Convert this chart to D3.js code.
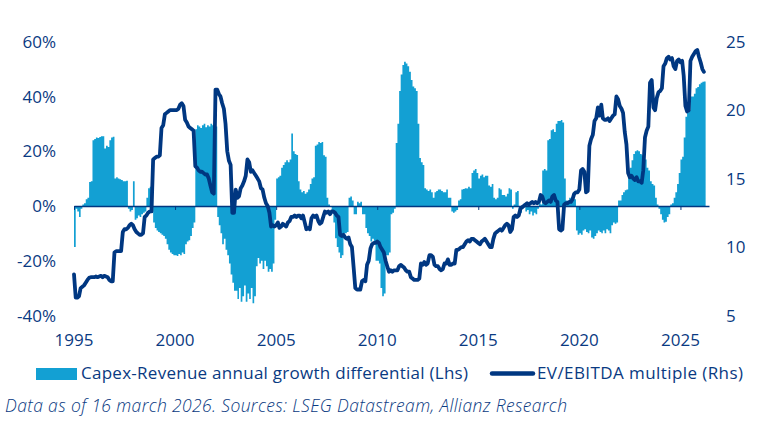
<!DOCTYPE html>
<html>
<head>
<meta charset="UTF-8">
<title>Capex-Revenue growth differential vs EV/EBITDA</title>
<script src="https://cdn.jsdelivr.net/npm/d3@7"></script>
<style>
  body { margin: 0; background: #fff; }
  text { font-family: "Open Sans", sans-serif; fill: #0a3a82; }
</style>
</head>
<body>
<script>
// monthly values, starting January 1995
const startYear = 1995;

// Capex-Revenue annual growth differential, % (left axis)
const capexDiff = [
  -15, -1, -2, -4, -1, 0.5, 1, 2.5, 3, 8.8, 9, 24,            // 1995
  24.5, 25, 24.8, 25.2, 25.5, 25.5, 21, 22, 21.5, 24, 25, 25.3, // 1996
  10, 10.5, 10, 9.8, 9.5, 9, 9, 9.2, -1, -2, -1.5, 9,           // 1997
  -5, -4.5, -3.5, -4, -3, -2.5, -2, 3, 6.5, 7, 7.5, -6,         // 1998
  -8, -9, -9.5, -10, -10.5, -11, -12, -14, -16, -17, -17.5, -18, // 1999
  -18, -18.3, -17.5, -18, -17, -17.5, -14, -13, -12.5, -11, -8, -6, // 2000
  28, 29.5, 29, 28.5, 29.5, 30, 28.8, 29.5, 29, 30, 29.5, 30.5, // 2001
  29, -4, -7, -10, -14, -12, -16, -18, -21, -25, -28, -31,      // 2002
  -31, -34, -30, -35, -33, -29, -35, -32, -34, -30, -35.5, -33, // 2003
  -22, -19, -21, -20, -23, -20, -22, -24, -23, -24, -21, -5,    // 2004
  10, 10.5, 11, 14, 15, 16, 16.7, 16, 17, 26.5, 20, 19,         // 2005
  18.6, 9, 6, 5, 5.5, 4.5, 5, 6, 8, 10, 10.5, 22,               // 2006
  22.5, 23.4, 23, 23.4, 18.5, 18, 3, 0.5, 0, -2, -6, -11.8,     // 2007
  -15, -17, -19, -18, -10, -10, -9.5, 3, 3.5, 2, -3, -3,        // 2008
  1.5, 1, 1.5, -3, -3, -8, -10, -11, -13, -12, -14, -20,        // 2009
  -20, -21, -30, -33, -32, -18, -18, -17, -3, -2.5, -1, 23,     // 2010
  30, 42, 48, 51.5, 52.7, 52, 51, 49, 46, 43.6, 43, 42,         // 2011
  30, 17.5, 16, 15, 6.5, 6, 5.5, 6, 5, 3, 5, 5.5,               // 2012
  6, 6, 5.5, 5, 5, 6, 3, 3, -2, -2.5, -2, -1.5,                 // 2013
  2, 2.5, 6, 6.2, 6.5, 6.4, 7, 6.5, 12, 13, 13.5, 12,           // 2014
  10, 11, 11.5, 10.5, 11, 11, 7.5, 7, 8, 3, 2.5, 3,             // 2015
  6.5, 6, 4, 4, 3.5, 4.5, 6.5, 6, -1, 0.5, 5, 5.5,              // 2016
  -3, -2.5, -1, 1, -2, -1.5, -3, -2, -3.5, -2.5, -3, -1,        // 2017
  1, 0.5, 13, 13.5, 13, 24, 24.5, 27.7, 28, 27, 30, 31,         // 2018
  31, 31.4, 30.5, 10, 2, 1, 3, 2, 3.5, 2.5, -9, -10.5,          // 2019
  -10, -10.5, -9, -8.5, -9.5, -10, -9, -11.5, -12, -11, -10, -9, // 2020
  -9.5, -10, -9, -10, -8.5, -9, -10, -7, -6, -6.5, -6, 2,       // 2021
  2, 4, 5, 5.7, 6, 12, 14, 16.7, 19, 20, 20.4, 20,              // 2022
  19, 18.5, 18, 17, 14, 13, 9, 8, 7.5, 3, 0.5, -1,              // 2023
  -3, -5, -6, -5.8, -4, -3, 0.5, 1, 3, 5, 8, 12,                // 2024
  17, 18, 25, 32.6, 34, 35, 40, 40, 41, 43, 43.5, 44.5,         // 2025
  45, 45.4, 45.5                                                // 2026
];

// EV/EBITDA multiple (right axis)
const evEbitda = [
  8.0, 6.3, 6.3, 6.4, 7.0, 7.1, 7.2, 7.4, 7.6, 7.75, 7.8, 7.8,           // 1995
  7.8, 7.85, 7.8, 7.85, 7.9, 7.8, 7.9, 7.85, 7.8, 7.6, 7.5, 7.5,         // 1996
  9.6, 9.7, 9.7, 9.7, 9.7, 11.1, 11.3, 11.3, 11.4, 11.6, 11.7, 11.6,     // 1997
  11.3, 11.1, 11.0, 10.9, 10.9, 11.0, 12.2, 12.3, 12.5, 12.6, 12.6, 16.4, // 1998
  16.5, 16.6, 16.6, 16.7, 18.7, 18.9, 19.7, 19.8, 19.9, 20.0, 20.0, 20.0, // 1999
  20.0, 20.0, 20.1, 20.4, 20.5, 20.3, 19.3, 19.1, 18.8, 18.7, 18.6, 18.5, // 2000
  15.9, 15.8, 15.6, 15.5, 15.5, 15.4, 15.3, 15.3, 15.0, 14.5, 14.0, 13.9, // 2001
  21.5, 21.5, 21.2, 21.0, 20.5, 20.1, 19.0, 17.0, 16.3, 16.0, 12.5, 12.5, // 2002
  14.2, 13.6, 13.7, 14.3, 14.5, 14.8, 15.2, 16.4, 16.2, 15.5, 15.6, 15.4, // 2003
  15.2, 15.0, 14.8, 14.3, 14.2, 13.6, 13.2, 13.0, 12.5, 11.5, 11.6, 11.5, // 2004
  11.6, 11.8, 11.4, 11.5, 11.7, 11.6, 11.5, 11.8, 11.9, 12.2, 12.2, 12.3, // 2005
  12.2, 12.3, 12.3, 12.1, 12.3, 11.8, 11.3, 11.4, 11.3, 12.1, 12.3, 12.2, // 2006
  12.3, 11.9, 11.7, 11.8, 12.2, 12.6, 12.5, 12.6, 12.4, 12.6, 12.6, 12.5, // 2007
  12.3, 12.2, 10.9, 10.8, 10.9, 10.7, 10.6, 10.7, 10.2, 10.0, 8.5, 7.0,   // 2008
  6.9, 6.9, 6.9, 7.5, 7.6, 7.5, 8.7, 9.0, 9.9, 10.2, 10.3, 10.3,          // 2009
  10.4, 10.3, 10.0, 9.8, 9.6, 9.0, 8.6, 8.2, 8.3, 8.2, 8.3, 8.3,          // 2010
  8.3, 8.6, 8.7, 8.6, 8.5, 8.3, 8.2, 8.2, 7.8, 7.7, 7.6, 7.6,             // 2011
  7.6, 7.7, 8.8, 8.7, 8.9, 8.7, 8.8, 9.4, 9.4, 9.3, 8.7, 8.6,             // 2012
  8.6, 8.4, 8.3, 8.4, 8.8, 8.8, 9.1, 8.7, 8.7, 8.8, 8.8, 9.8,             // 2013
  9.8, 9.9, 10.0, 10.0, 10.2, 10.4, 10.5, 10.4, 10.6, 10.6, 10.5, 10.4,   // 2014
  10.3, 10.2, 10.4, 10.5, 10.6, 10.4, 10.2, 10.0, 10.0, 10.6, 11.0, 11.1, // 2015
  11.2, 11.3, 11.2, 11.4, 11.6, 11.7, 11.6, 11.1, 11.3, 12.2, 12.3, 12.2, // 2016
  12.3, 12.8, 12.9, 13.0, 13.1, 13.2, 13.1, 13.2, 13.3, 13.2, 13.3, 13.2, // 2017
  13.3, 13.8, 13.7, 13.3, 13.2, 13.3, 13.4, 13.3, 13.7, 13.8, 13.4, 13.3, // 2018
  11.3, 11.2, 11.3, 13.1, 13.2, 13.2, 13.3, 13.3, 13.5, 13.9, 14.0, 14.0, // 2019
  14.2, 15.6, 15.7, 15.5, 14.0, 14.1, 17.4, 17.9, 18.2, 19.2, 19.4, 20.2, // 2020
  19.6, 20.4, 19.4, 19.3, 19.3, 19.4, 19.2, 19.4, 19.6, 19.7, 21.0, 20.8, // 2021
  20.3, 20.1, 19.8, 18.4, 17.5, 15.4, 15.1, 15.2, 15.0, 14.9, 15.1, 14.8, // 2022
  14.8, 14.7, 15.6, 18.0, 18.5, 18.8, 22.0, 22.2, 20.2, 20.0, 20.9, 21.3, // 2023
  21.4, 21.6, 23.2, 23.4, 23.8, 23.9, 23.7, 23.8, 23.2, 23.0, 23.6, 23.7, // 2024
  23.5, 23.6, 22.5, 20.3, 19.9, 20.0, 23.6, 23.9, 24.1, 24.3, 24.4, 23.9, // 2025
  23.5, 23.0, 22.8                                                        // 2026
];

const xTicks = [1995, 2000, 2005, 2010, 2015, 2020, 2025];
const leftTicks = [-40, -20, 0, 20, 40, 60];
const rightTicks = [5, 10, 15, 20, 25];

const barColor = '#13a0d3';
const lineColor = '#003781';

const width = 767;
const height = 422;

const month = i => new Date(Date.UTC(startYear, i, 1));
const yearDate = y => new Date(Date.UTC(y, 0, 1));

const x = d3.scaleUtc()
    .domain([yearDate(1995), new Date(Date.UTC(2026, 5, 1))])
    .range([74, 709]);
const yL = d3.scaleLinear().domain([-40, 60]).range([315.5, 41.7]);
const yR = d3.scaleLinear().domain([5, 25]).range([315.5, 41.7]);

const svg = d3.select('body')
    .append('svg')
    .attr('width', width)
    .attr('height', height);

// monthly columns, drawn as one stepped shape so neighbours do not leave gaps
const steps = capexDiff.map((v, i) => ({ t: month(i), v }));
steps.push({ t: month(capexDiff.length), v: capexDiff[capexDiff.length - 1] });
const area = d3.area()
    .curve(d3.curveStepAfter)
    .x(d => x(d.t))
    .y0(yL(0))
    .y1(d => yL(d.v));
svg.append('path')
    .datum(steps)
    .attr('fill', barColor)
    .attr('d', area);

// zero line with year ticks
const zeroAxis = svg.append('g')
    .attr('transform', `translate(0,${yL(0)})`)
    .call(d3.axisBottom(x)
        .tickValues(xTicks.map(yearDate))
        .tickSizeInner(4)
        .tickSizeOuter(0)
        .tickFormat(''));
zeroAxis.select('.domain').attr('stroke', lineColor).attr('stroke-width', 1.3);
zeroAxis.selectAll('.tick line').attr('stroke', lineColor).attr('stroke-width', 1);

// EV/EBITDA line
const line = d3.line()
    .x((d, i) => x(month(i)))
    .y(d => yR(d));
svg.append('path')
    .datum(evEbitda)
    .attr('fill', 'none')
    .attr('stroke', lineColor)
    .attr('stroke-width', 3.8)
    .attr('stroke-linejoin', 'round')
    .attr('stroke-linecap', 'round')
    .attr('d', line);

// axis labels
svg.append('g')
    .selectAll('text')
    .data(leftTicks)
    .join('text')
    .attr('x', 56)
    .attr('y', d => yL(d))
    .attr('dy', '0.36em')
    .attr('text-anchor', 'end')
    .attr('font-size', 17)
    .text(d => d + '%');

svg.append('g')
    .selectAll('text')
    .data(rightTicks)
    .join('text')
    .attr('x', 726)
    .attr('y', d => yR(d))
    .attr('dy', '0.36em')
    .attr('font-size', 17)
    .text(d => d);

svg.append('g')
    .selectAll('text')
    .data(xTicks)
    .join('text')
    .attr('x', d => x(yearDate(d)))
    .attr('y', 345.5)
    .attr('text-anchor', 'middle')
    .attr('font-size', 17)
    .text(d => d);

// legend
const legend = svg.append('g');
legend.append('rect')
    .attr('x', 36).attr('y', 368)
    .attr('width', 41).attr('height', 12)
    .attr('fill', barColor);
legend.append('text')
    .attr('x', 81).attr('y', 379)
    .attr('font-size', 17)
    .attr('textLength', 387)
    .attr('lengthAdjust', 'spacing')
    .text('Capex-Revenue annual growth differential (Lhs)');
legend.append('line')
    .attr('x1', 492).attr('x2', 533)
    .attr('y1', 373.5).attr('y2', 373.5)
    .attr('stroke', lineColor)
    .attr('stroke-width', 4.5)
    .attr('stroke-linecap', 'round');
legend.append('text')
    .attr('x', 537).attr('y', 379)
    .attr('font-size', 17)
    .attr('textLength', 206)
    .attr('lengthAdjust', 'spacing')
    .text('EV/EBITDA multiple (Rhs)');

// source note
svg.append('text')
    .attr('x', 5).attr('y', 412)
    .attr('font-family', 'Lato, "Open Sans", sans-serif')
    .attr('font-size', 17.5)
    .attr('font-style', 'italic')
    .attr('font-weight', 300)
    .attr('textLength', 562)
    .attr('lengthAdjust', 'spacing')
    .text('Data as of 16 march 2026. Sources: LSEG Datastream, Allianz Research');
</script>
</body>
</html>
